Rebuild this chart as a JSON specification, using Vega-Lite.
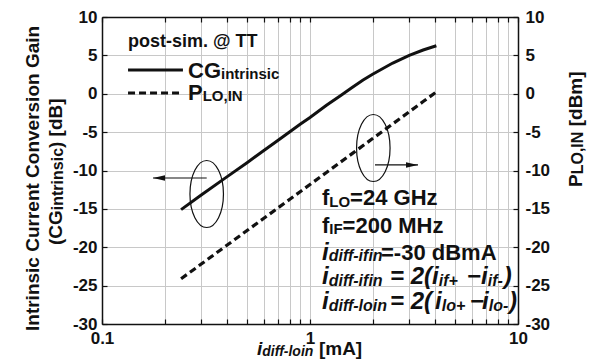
{
  "$schema": "https://vega.github.io/schema/vega-lite/v6.json",
  "width": 416,
  "height": 307,
  "autosize": {"type": "none"},
  "padding": {"left": 102, "top": 17, "right": 73, "bottom": 39},
  "background": "white",
  "config": {
    "view": {"stroke": null},
    "font": "Liberation Sans",
    "axis": {
      "domainColor": "#111",
      "domainWidth": 1.5,
      "tickColor": "#111",
      "tickWidth": 1.2,
      "tickSize": -5,
      "labelFont": "Liberation Sans",
      "labelFontSize": 17,
      "labelFontWeight": "bold",
      "labelColor": "#111",
      "gridColor": "#c8c8c8",
      "gridWidth": 1,
      "labelOverlap": false,
      "labelFlush": false
    }
  },
  "datasets": {
    "cg": [
      {"x": 0.24, "y": -15.1}, {"x": 0.3, "y": -13.2}, {"x": 0.4, "y": -10.8},
      {"x": 0.5, "y": -8.95}, {"x": 0.6, "y": -7.4}, {"x": 0.7, "y": -6.1},
      {"x": 0.8, "y": -4.95}, {"x": 0.9, "y": -3.95}, {"x": 1, "y": -3.1},
      {"x": 1.2, "y": -1.5}, {"x": 1.4, "y": -0.25}, {"x": 1.6, "y": 0.85},
      {"x": 1.8, "y": 1.8}, {"x": 2, "y": 2.55}, {"x": 2.5, "y": 4.0},
      {"x": 3, "y": 5.0}, {"x": 3.5, "y": 5.7}, {"x": 4.05, "y": 6.25}
    ],
    "plo": [
      {"x": 0.24, "y": -24.11}, {"x": 0.3, "y": -22.19}, {"x": 0.4, "y": -19.71},
      {"x": 0.5, "y": -17.79}, {"x": 0.6, "y": -16.22}, {"x": 0.7, "y": -14.89},
      {"x": 0.8, "y": -13.74}, {"x": 0.9, "y": -12.73}, {"x": 1, "y": -11.82},
      {"x": 1.2, "y": -10.25}, {"x": 1.4, "y": -8.92}, {"x": 1.6, "y": -7.77},
      {"x": 1.8, "y": -6.75}, {"x": 2, "y": -5.84}, {"x": 2.5, "y": -3.92},
      {"x": 3, "y": -2.35}, {"x": 3.5, "y": -1.02}, {"x": 4.05, "y": 0.24}
    ],
    "legSolid": [{"x": 0.1334, "x2": 0.245, "y": 3.1}],
    "legDash": [{"x": 0.1334, "x2": 0.245, "y": 0.1}],
    "ellipses": [{"x": 0.3187, "y": -13.06}, {"x": 2.0155, "y": -7.07}],
    "arrows": [
      {"x": 0.3187, "x2": 0.1759, "y": -10.98},
      {"x": 2.0535, "x2": 3.3058, "y": -9.28}
    ],
    "heads": [
      {"x": 0.1759, "y": -10.98, "dir": "left"},
      {"x": 3.3058, "y": -9.28, "dir": "right"}
    ],
    "t_post": [{"x": 0.13335, "y": 6.13, "t": "post-sim. @ TT"}],
    "t_up22": [
      {"x": 0.2591, "y": 2.05, "t": "CG"},
      {"x": 0.2591, "y": -0.81, "t": "P"},
      {"x": 1.1421, "y": -14.56, "t": "f"},
      {"x": 1.5588, "y": -14.56, "t": "=24 GHz"},
      {"x": 1.1421, "y": -18.14, "t": "f"},
      {"x": 1.4347, "y": -18.14, "t": "=200 MHz"},
      {"x": 2.1948, "y": -21.6, "t": "=-30 dBmA"}
    ],
    "t_sub15": [
      {"x": 0.3734, "y": 1.92, "t": "intrinsic"},
      {"x": 0.3049, "y": -0.94, "t": "LO,IN"},
      {"x": 1.2382, "y": -14.7, "t": "LO"},
      {"x": 1.2382, "y": -18.28, "t": "IF"}
    ],
    "t_it24": [
      {"x": 1.1421, "y": -21.6, "t": "i"},
      {"x": 1.1421, "y": -24.79, "t": "i"},
      {"x": 2.4245, "y": -24.79, "t": "= 2("},
      {"x": 3.8597, "y": -24.79, "t": "i"},
      {"x": 5.6857, "y": -24.79, "t": "−"},
      {"x": 6.6388, "y": -24.79, "t": "i"},
      {"x": 8.5500, "y": -24.79, "t": ")"},
      {"x": 1.1421, "y": -28.11, "t": "i"},
      {"x": 2.4245, "y": -28.11, "t": "= 2("},
      {"x": 3.9901, "y": -28.11, "t": "i"},
      {"x": 5.8776, "y": -28.11, "t": "−"},
      {"x": 6.7125, "y": -28.11, "t": "i"},
      {"x": 9.0512, "y": -28.11, "t": ")"}
    ],
    "t_itsub16": [
      {"x": 1.23, "y": -21.8, "t": "diff-ifin"},
      {"x": 1.23, "y": -24.99, "t": "diff-ifin"},
      {"x": 4.1562, "y": -24.99, "t": "if+"},
      {"x": 7.1498, "y": -24.99, "t": "if-"},
      {"x": 1.23, "y": -28.31, "t": "diff-loin"},
      {"x": 4.2964, "y": -28.31, "t": "lo+"},
      {"x": 7.2292, "y": -28.31, "t": "lo-"}
    ],
    "t_xt_it19": [{"x": 0.5561, "y": -34.04, "t": "i"}],
    "t_xt_itsub14": [{"x": 0.5898, "y": -34.17, "t": "diff-loin"}],
    "t_xt_up19": [{"x": 1.1036, "y": -34.04, "t": "[mA]"}],
    "t_rot19": [
      {"x": 0.04978, "y": -30.91, "t": "Intrinsic Current Conversion Gain"},
      {"x": 0.06423, "y": -19.71, "t": "(CG"},
      {"x": 0.06423, "y": -7.07, "t": ") [dB]"},
      {"x": 20.31, "y": -12.15, "t": "P"},
      {"x": 20.31, "y": -4.24, "t": "[dBm]"}
    ],
    "t_rotsub16": [
      {"x": 0.06494, "y": -15.17, "t": "intrinsic"},
      {"x": 20.54, "y": -10.5, "t": "LO,IN"}
    ]
  },
  "layer": [
    {
      "encoding": {
        "x": {
          "field": "x", "type": "quantitative",
          "scale": {"type": "log", "domain": [0.1, 10], "nice": false},
          "axis": {
            "orient": "bottom", "title": null, "grid": true,
            "values": [0.1, 0.2, 0.3, 0.4, 0.5, 0.6, 0.7, 0.8, 0.9, 1, 2, 3, 4, 5, 6, 7, 8, 9, 10],
            "labelExpr": "(datum.value == 0.1 || datum.value == 1 || datum.value == 10) ? '' + datum.value : ''",
            "labelPadding": 11
          }
        },
        "y": {
          "field": "y", "type": "quantitative",
          "scale": {"domain": [-30, 10], "nice": false, "zero": false},
          "axis": {
            "orient": "left", "title": null, "grid": true,
            "values": [-30, -25, -20, -15, -10, -5, 0, 5, 10],
            "labelExpr": "'' + datum.value",
            "labelPadding": 10
          }
        }
      },
      "layer": [
        {"data": {"name": "cg"}, "mark": {"type": "line", "color": "#111", "strokeWidth": 3}},
        {"data": {"name": "legSolid"}, "mark": {"type": "rule", "color": "#111", "strokeWidth": 3}, "encoding": {"x2": {"field": "x2"}}},
        {"data": {"name": "legDash"}, "mark": {"type": "rule", "color": "#111", "strokeWidth": 3.2, "strokeDash": [7, 4]}, "encoding": {"x2": {"field": "x2"}}},
        {"data": {"name": "ellipses"}, "mark": {"type": "point", "shape": "M0,-1 C0.2761,-1 0.5,-0.5523 0.5,0 C0.5,0.5523 0.2761,1 0,1 C-0.2761,1 -0.5,0.5523 -0.5,0 C-0.5,-0.5523 -0.2761,-1 0,-1 Z", "size": 4489, "filled": false, "stroke": "#111", "strokeWidth": 1.2, "opacity": 1}},
        {"data": {"name": "arrows"}, "mark": {"type": "rule", "color": "#111", "strokeWidth": 1.2}, "encoding": {"x2": {"field": "x2"}}},
        {"data": {"name": "heads"}, "mark": {"type": "point", "filled": true, "color": "#111", "size": 144, "opacity": 1, "strokeWidth": 0},
          "encoding": {"shape": {"field": "dir", "type": "nominal", "legend": null,
            "scale": {"domain": ["left", "right"], "range": ["M0,0 L2,-0.45 L2,0.45 Z", "M0,0 L-2,-0.45 L-2,0.45 Z"]}}}},
        {"data": {"name": "t_post"}, "mark": {"type": "text", "align": "left", "baseline": "alphabetic", "font": "Liberation Sans", "fontWeight": "bold", "fontSize": 18, "color": "#111"}, "encoding": {"text": {"field": "t"}}},
        {"data": {"name": "t_up22"}, "mark": {"type": "text", "align": "left", "baseline": "alphabetic", "font": "Liberation Sans", "fontWeight": "bold", "fontSize": 22, "color": "#111"}, "encoding": {"text": {"field": "t"}}},
        {"data": {"name": "t_sub15"}, "mark": {"type": "text", "align": "left", "baseline": "alphabetic", "font": "Liberation Sans", "fontWeight": "bold", "fontSize": 15, "color": "#111"}, "encoding": {"text": {"field": "t"}}},
        {"data": {"name": "t_it24"}, "mark": {"type": "text", "align": "left", "baseline": "alphabetic", "font": "Liberation Sans", "fontWeight": "bold", "fontStyle": "italic", "fontSize": 24, "color": "#111"}, "encoding": {"text": {"field": "t"}}},
        {"data": {"name": "t_itsub16"}, "mark": {"type": "text", "align": "left", "baseline": "alphabetic", "font": "Liberation Sans", "fontWeight": "bold", "fontStyle": "italic", "fontSize": 16, "color": "#111"}, "encoding": {"text": {"field": "t"}}},
        {"data": {"name": "t_xt_it19"}, "mark": {"type": "text", "align": "left", "baseline": "alphabetic", "font": "Liberation Sans", "fontWeight": "bold", "fontStyle": "italic", "fontSize": 19, "color": "#111"}, "encoding": {"text": {"field": "t"}}},
        {"data": {"name": "t_xt_itsub14"}, "mark": {"type": "text", "align": "left", "baseline": "alphabetic", "font": "Liberation Sans", "fontWeight": "bold", "fontStyle": "italic", "fontSize": 14, "color": "#111"}, "encoding": {"text": {"field": "t"}}},
        {"data": {"name": "t_xt_up19"}, "mark": {"type": "text", "align": "left", "baseline": "alphabetic", "font": "Liberation Sans", "fontWeight": "bold", "fontSize": 19, "color": "#111"}, "encoding": {"text": {"field": "t"}}},
        {"data": {"name": "t_rot19"}, "mark": {"type": "text", "align": "left", "baseline": "alphabetic", "angle": 270, "font": "Liberation Sans", "fontWeight": "bold", "fontSize": 19, "color": "#111"}, "encoding": {"text": {"field": "t"}}},
        {"data": {"name": "t_rotsub16"}, "mark": {"type": "text", "align": "left", "baseline": "alphabetic", "angle": 270, "font": "Liberation Sans", "fontWeight": "bold", "fontSize": 16, "color": "#111"}, "encoding": {"text": {"field": "t"}}}
      ]
    },
    {
      "data": {"name": "plo"},
      "mark": {"type": "line", "color": "#111", "strokeWidth": 3.2, "strokeDash": [7, 4]},
      "encoding": {
        "x": {
          "field": "x", "type": "quantitative",
          "scale": {"type": "log", "domain": [0.1, 10], "nice": false},
          "axis": {
            "orient": "top", "title": null, "grid": false, "labels": false,
            "values": [0.1, 0.2, 0.3, 0.4, 0.5, 0.6, 0.7, 0.8, 0.9, 1, 2, 3, 4, 5, 6, 7, 8, 9, 10]
          }
        },
        "y": {
          "field": "y", "type": "quantitative",
          "scale": {"domain": [-30, 10], "nice": false, "zero": false},
          "axis": {
            "orient": "right", "title": null, "grid": false,
            "values": [-30, -25, -20, -15, -10, -5, 0, 5, 10],
            "labelExpr": "'' + datum.value",
            "labelPadding": 12
          }
        }
      }
    }
  ],
  "resolve": {"scale": {"x": "independent", "y": "independent"}}
}
